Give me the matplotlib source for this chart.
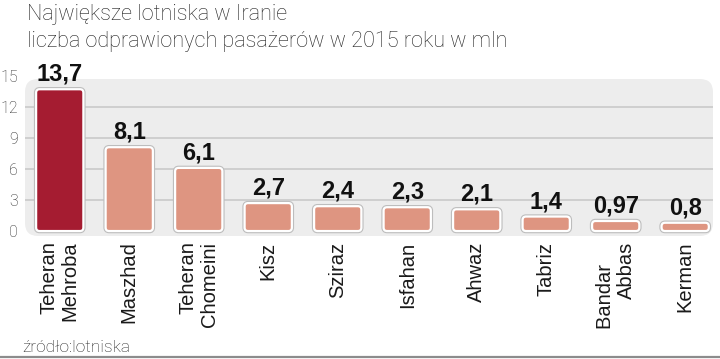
import matplotlib
matplotlib.use("Agg")
import matplotlib.pyplot as plt
from matplotlib.patches import FancyBboxPatch
from matplotlib.lines import Line2D

airports = ["Teheran\nMehroba", "Maszhad", "Teheran\nChomeini", "Kisz", "Sziraz",
            "Isfahan", "Ahwaz", "Tabriz", "Bandar    \nAbbas", "Kerman"]
passengers = [13.7, 8.1, 6.1, 2.7, 2.4, 2.3, 2.1, 1.4, 0.97, 0.8]
value_labels = ["13,7", "8,1", "6,1", "2,7", "2,4", "2,3", "2,1", "1,4", "0,97", "0,8"]
yticks = [0, 3, 6, 9, 12, 15]

title1 = "Największe lotniska w Iranie"
title2 = "liczba odprawionych pasażerów w 2015 roku w mln"
source = "źródło:lotniska"

dark_red = "#a51c31"
salmon = "#de9581"
panel_col = "#ededed"
grid_col = "#c6c6c6"

W, H = 720, 359
fig = plt.figure(figsize=(W / 100, H / 100), dpi=100)
fig.patch.set_facecolor("white")

# axes placement in pixels
ax_l, ax_r, ax_b, ax_t = 25, 713, 236, 70
ax = fig.add_axes([ax_l / W, (H - ax_b) / H, (ax_r - ax_l) / W, (ax_b - ax_t) / H])
ax.set_facecolor("none")
ymin, ymax = -0.48, 15.56
ax.set_xlim(-0.5, 9.4)
ax.set_ylim(ymin, ymax)

# grey rounded panel
ax_w_px, ax_h_px = ax_r - ax_l, ax_b - ax_t
panel_top = (14.69 - ymin) / (ymax - ymin)
panel = FancyBboxPatch((0, 0), 1, panel_top, transform=ax.transAxes,
                       boxstyle="round,pad=0,rounding_size=%f" % (13 / ax_w_px),
                       mutation_aspect=ax_w_px / ax_h_px,
                       facecolor=panel_col, edgecolor="none", zorder=0, clip_on=False)
ax.add_patch(panel)

for yv in yticks[1:-1]:
    ax.axhline(yv, color=grid_col, lw=1.1, zorder=1)

x = list(range(len(passengers)))
bars = ax.bar(x, passengers, width=0.68, alpha=0)

px_x = ax_w_px / (9.4 + 0.5)
px_y = ax_h_px / (ymax - ymin)
for i, rect in enumerate(bars):
    col = dark_red if i == 0 else salmon
    bx, by = rect.get_xy()
    bw, bh = rect.get_width(), rect.get_height()
    style = "round,pad=0,rounding_size=%f" % (3.5 / px_x)
    shadow = FancyBboxPatch((bx, by), bw, bh, boxstyle=style, mutation_aspect=px_x / px_y,
                            facecolor="none", edgecolor="#bdbdbd", lw=3.2, zorder=2)
    ax.add_patch(shadow)
    patch = FancyBboxPatch((bx, by), bw, bh, boxstyle=style, mutation_aspect=px_x / px_y,
                           facecolor=col, edgecolor="white", lw=1.6, zorder=3)
    ax.add_patch(patch)
    ax.annotate(value_labels[i], (rect.get_x() + bw / 2, bh), xytext=(0, 6),
                textcoords="offset points", ha="center", va="baseline",
                fontsize=17, fontweight="bold", family="Liberation Sans",
                color="#111111", zorder=4)

ax.set_yticks(yticks)
ax.set_yticklabels([str(v) for v in yticks], fontsize=11.5, color="#2a2a2a",
                   family=["Roboto", "DejaVu Sans"], fontweight="light")
ax.tick_params(axis="y", length=0, pad=5)
ax.set_xticks(x)
ax.set_xticklabels(airports, rotation=90, fontsize=14.5, family="Liberation Sans",
                   color="#1a1a1a", va="top", ha="center", multialignment="right",
                   linespacing=1.15)
ax.tick_params(axis="x", length=0, pad=4)
for s in ax.spines.values():
    s.set_visible(False)

fig.text(27 / W, (H - 20) / H, title1, fontsize=15.6, family=["Roboto", "DejaVu Sans"],
         fontweight="light", color="#222222", va="baseline", ha="left")
fig.text(27 / W, (H - 47) / H, title2, fontsize=15.6, family=["Roboto", "DejaVu Sans"],
         fontweight="light", color="#222222", va="baseline", ha="left")
fig.text(22 / W, (H - 352) / H, source, fontsize=12.5, family=["Roboto", "DejaVu Sans"],
         fontweight="light", color="#222222", va="baseline", ha="left")

fig.add_artist(Line2D([0, 1], [2 / H, 2 / H], transform=fig.transFigure,
                      color="#8c8c8c", lw=1.6))

fig.savefig("out.png", dpi=100, facecolor="white")
